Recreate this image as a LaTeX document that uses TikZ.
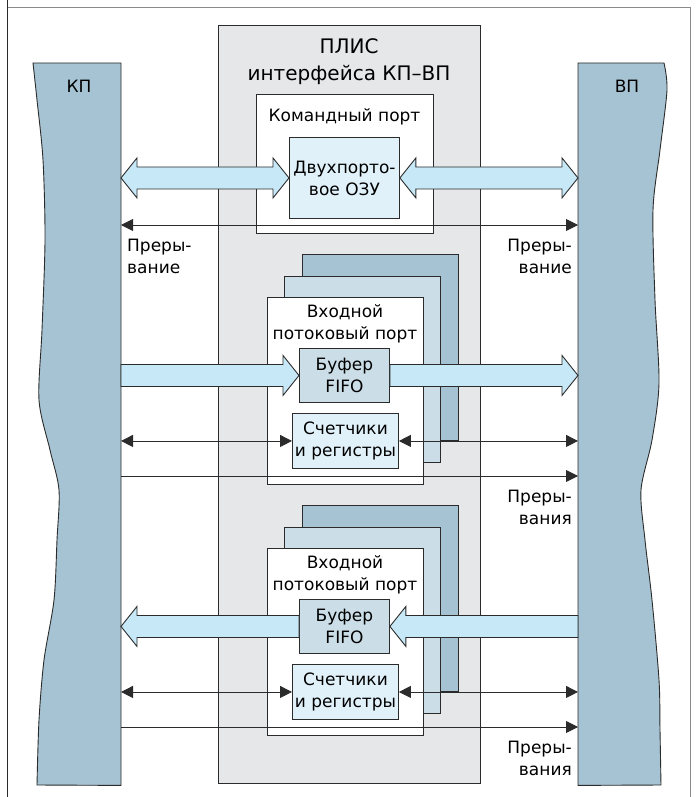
\documentclass[tikz,border=0pt]{standalone}
\usepackage{fontspec}
\setmainfont{DejaVu Sans}
\usetikzlibrary{positioning,arrows.meta,calc}
\definecolor{linec}{HTML}{2B2B2B}
\definecolor{framegray}{HTML}{8A8A8A}
\definecolor{barblue}{HTML}{A6C3D3}
\definecolor{plisgray}{HTML}{E6E7E8}
\definecolor{midblue}{HTML}{CBDEE8}
\definecolor{memblue}{HTML}{E1F1FA}
\definecolor{arrowblue}{HTML}{C6E8F7}
\tikzset{
  txt/.style={font=\fontsize{17}{22}\selectfont,inner sep=0pt,align=center},
  titletxt/.style={txt,font=\fontsize{20}{27}\selectfont},
  bar/.style={draw=linec,fill=barblue,line width=0.9pt},
  area/.style={anchor=north west,inner sep=0pt,draw=linec,line width=0.9pt},
  plisbox/.style={area,fill=plisgray},
  portbox/.style={area,fill=white},
  backbox/.style={area,fill=barblue},
  midbox/.style={area,fill=midblue},
  membox/.style={area,fill=memblue,txt},
  fifobox/.style={area,fill=midblue,txt},
  fat/.style={draw=linec,fill=arrowblue,line width=0.9pt,line join=miter},
  sig/.style={draw=linec,line width=0.9pt,>={Triangle[length=12pt,width=12pt]}},
}
% wide data arrow, head at #2
\newcommand{\fatarrow}[2]{%
  \draw[fat] let \p1=(#1), \p2=(#2), \n1={ifthenelse(\x2>\x1,16,-16)} in
    (\x1,{\y1+11pt}) -- ({\x2-\n1},{\y1+11pt}) -- ({\x2-\n1},{\y1+20pt})
    -- (\x2,\y1) -- ({\x2-\n1},{\y1-20pt}) -- ({\x2-\n1},{\y1-11pt})
    -- (\x1,{\y1-11pt}) -- cycle;}
% wide data arrow, heads at both ends
\newcommand{\fatboth}[2]{%
  \draw[fat] let \p1=(#1), \p2=(#2), \n1={ifthenelse(\x2>\x1,16,-16)} in
    (\x1,\y1) -- ({\x1+\n1},{\y1+20pt}) -- ({\x1+\n1},{\y1+11pt})
    -- ({\x2-\n1},{\y1+11pt}) -- ({\x2-\n1},{\y1+20pt}) -- (\x2,\y1)
    -- ({\x2-\n1},{\y1-20pt}) -- ({\x2-\n1},{\y1-11pt})
    -- ({\x1+\n1},{\y1-11pt}) -- ({\x1+\n1},{\y1-20pt}) -- cycle;}
\begin{document}
\begin{tikzpicture}[x=1pt,y=-1pt]
  \useasboundingbox (0,0) rectangle (696,797);
  % frame
  \draw[framegray,line width=0.9pt] (7,7) -- (690,7) -- (690,797);
  \draw[linec,line width=0.9pt] (7,0) -- (7,797);

  % processor buses
  \node[anchor=north east,minimum width=88,minimum height=722,inner sep=0] (kp) at (121,63) {};
  \node[anchor=north west,minimum width=86,minimum height=722,inner sep=0] (vp) at (578,63) {};
  \draw[bar] (kp.north east) -- (kp.south east) -- (37,785)
    -- plot[smooth] coordinates {(37,785) (39,720) (44,660) (54,600) (57,540) (59,490)
       (50,450) (39,400) (42,330) (45,240) (43,160) (37,100) (33,63)} -- cycle;
  \draw[bar] (vp.north west) -- (vp.south west) -- (661,785)
    -- plot[smooth] coordinates {(661,785) (660,730) (659,680) (652,600) (645,540) (641,490)
       (652,440) (659,383) (655,300) (653,210) (660,150) (667,90) (664,63)} -- cycle;
  \node[txt] (kplbl) at (79,86) {КП};
  \node[txt] (vplbl) at (627,86) {ВП};

  % FPGA
  \node[plisbox,minimum width=262,minimum height=758] (plis) at (218,25) {};
  \node[titletxt] (plistitle) at (349,61.5) {ПЛИС\\интерфейса КП–ВП};

  % command port
  \node[portbox,minimum width=177,minimum height=139] (cport) at (256,94) {};
  \node[txt] (cportlbl) at (344.5,117) {Командный порт};
  \node[membox,minimum width=110,minimum height=81] (ram) at (289,137) {Двухпорто-\\вое ОЗУ};
  \fatboth{kp.east |- ram.west}{ram.west}
  \fatboth{ram.east}{vp.west |- ram.east}
  \coordinate (irq) at (349,225);
  \draw[sig,<->] (kp.east |- irq) -- (vp.west |- irq);
  \node[txt,align=left,anchor=north west] (irqkp) at (127,239) {Преры-\\вание};
  \node[txt,align=right,anchor=north east] (irqvp) at (572,239) {Преры-\\вание};

  % stream port 1
  \node[backbox,minimum width=156,minimum height=186] (back1) at (302,254) {};
  \node[midbox,minimum width=156,minimum height=186] (mid1) at (284,276) {};
  \node[portbox,minimum width=156,minimum height=187] (in1) at (267,297) {};
  \node[txt] (in1lbl) at (345,323.5) {Входной\\потоковый порт};
  \node[fifobox,minimum width=90,minimum height=54] (fifo1) at (299,348) {Буфер\\FIFO};
  \node[membox,minimum width=106,minimum height=55] (cnt1) at (292,413) {Счетчики\\и регистры};
  \fatarrow{kp.east |- fifo1.west}{fifo1.west}
  \fatarrow{fifo1.east}{vp.west |- fifo1.east}
  \draw[sig,<->] (kp.east |- cnt1.west) -- (cnt1.west);
  \draw[sig,<->] (cnt1.east) -- (vp.west |- cnt1.east);
  \coordinate (irq1) at (349,476);
  \draw[sig,->] (kp.east |- irq1) -- (vp.west |- irq1);
  \node[txt,align=right,anchor=north east] (irq1vp) at (572,490) {Преры-\\вания};

  % stream port 2
  \node[backbox,minimum width=156,minimum height=186] (back2) at (302,505) {};
  \node[midbox,minimum width=156,minimum height=186] (mid2) at (284,527) {};
  \node[portbox,minimum width=156,minimum height=187] (in2) at (267,548) {};
  \node[txt] (in2lbl) at (345,574.5) {Входной\\потоковый порт};
  \node[fifobox,minimum width=90,minimum height=54] (fifo2) at (299,599) {Буфер\\FIFO};
  \node[membox,minimum width=106,minimum height=55] (cnt2) at (292,664) {Счетчики\\и регистры};
  \fatarrow{vp.west |- fifo2.east}{fifo2.east}
  \fatarrow{fifo2.west}{kp.east |- fifo2.west}
  \draw[sig,<->] (kp.east |- cnt2.west) -- (cnt2.west);
  \draw[sig,<->] (cnt2.east) -- (vp.west |- cnt2.east);
  \coordinate (irq2) at (349,727);
  \draw[sig,->] (kp.east |- irq2) -- (vp.west |- irq2);
  \node[txt,align=right,anchor=north east] (irq2vp) at (572,741) {Преры-\\вания};
\end{tikzpicture}
\end{document}
